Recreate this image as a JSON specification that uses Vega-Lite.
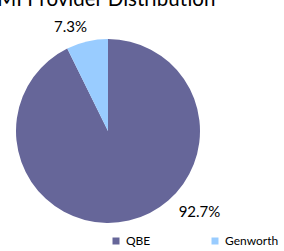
{
  "$schema": "https://vega.github.io/schema/vega-lite/v6.json",
  "width": 216,
  "height": 202,
  "autosize": "none",
  "padding": {"left": 0, "top": 30, "right": 68, "bottom": 19},
  "background": "white",
  "title": {"text": "LMI Provider Distribution", "fontSize": 20.5, "font": "Lato", "fontWeight": "normal", "color": "#000000", "offset": 1, "dx": -7, "dy": 25, "anchor": "middle"},
  "data": {"values": [
    {"provider": "QBE", "share": 0.927},
    {"provider": "Genworth", "share": 0.073}
  ]},
  "encoding": {
    "theta": {"field": "share", "type": "quantitative", "stack": true},
    "order": {"field": "provider", "sort": "descending"}
  },
  "layer": [
    {
      "mark": {"type": "arc", "outerRadius": 92},
      "encoding": {
        "color": {"field": "provider", "type": "nominal", "sort": ["QBE", "Genworth"],
          "scale": {"domain": ["QBE", "Genworth"], "range": ["#666699", "#99CCFF"]},
          "legend": {"title": null, "orient": "none", "direction": "horizontal", "legendX": 110, "legendY": 205,
            "symbolType": "square", "symbolSize": 49, "labelFont": "Lato", "labelFontSize": 12, "labelColor": "#000000",
            "columnPadding": 58, "labelOffset": 4}}
      }
    },
    {
      "mark": {"type": "text", "radius": 112, "dx": -12, "dy": 5, "font": "Lato", "fontSize": 15, "color": "#000000"},
      "encoding": {
        "text": {"condition": {"test": "datum.provider === 'Genworth'", "field": "share", "type": "quantitative", "format": ".1%"}, "value": ""}
      }
    },
    {
      "mark": {"type": "text", "radius": 112, "dx": 66, "dy": -28, "font": "Lato", "fontSize": 15, "color": "#000000"},
      "encoding": {
        "text": {"condition": {"test": "datum.provider === 'QBE'", "field": "share", "type": "quantitative", "format": ".1%"}, "value": ""}
      }
    }
  ],
  "config": {"view": {"stroke": null}}
}
